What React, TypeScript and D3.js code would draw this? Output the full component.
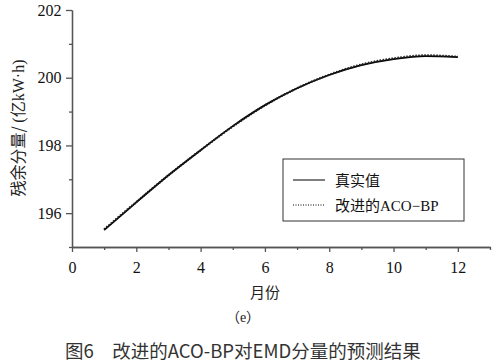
import React, { useEffect, useRef } from 'react';
import { select, scaleLinear, axisBottom, axisLeft, line, curveMonotoneX } from 'd3';

const months = [1, 2, 3, 4, 5, 6, 7, 8, 9, 10, 11, 12];
const actual = [195.5, 196.32, 197.12, 197.86, 198.57, 199.19, 199.69, 200.08, 200.37, 200.55, 200.64, 200.61];
const predicted = [195.52, 196.33, 197.12, 197.86, 198.56, 199.18, 199.69, 200.09, 200.39, 200.57, 200.66, 200.62];
const xTicks = [0, 2, 4, 6, 8, 10, 12];
const xMinor = [1, 3, 5, 7, 9, 11, 13];
const yTicks = [196, 198, 200, 202];
const yMinor = [195, 197, 199, 201];

const serif = '"Liberation Serif", "Noto Sans CJK SC", serif';
const cjk = '"Noto Sans CJK SC", sans-serif';
const axisColor = '#555';

const App = () => {
  const svgRef = useRef<SVGSVGElement>(null);

  const x = scaleLinear().domain([0, 13]).range([72, 490]);
  const y = scaleLinear().domain([195, 202]).range([247, 10]);

  useEffect(() => {
    const svg = select(svgRef.current);

    const xAxis = axisBottom(x).tickValues(xTicks).tickSize(5).tickSizeOuter(0).tickFormat((d: any) => String(d));
    const gx = svg.select<SVGGElement>('.x-axis').attr('transform', `translate(0,${y(195)})`).call(xAxis);
    gx.selectAll('text').attr('font-family', serif).attr('font-size', 16).attr('fill', '#111').attr('dy', '1.1em');
    gx.selectAll('line, path').attr('stroke', axisColor).attr('stroke-width', 1.3);
    const xm = axisBottom(x).tickValues(xMinor).tickSize(3).tickSizeOuter(0).tickFormat(() => '');
    svg.select<SVGGElement>('.x-minor').attr('transform', `translate(0,${y(195)})`).call(xm)
      .selectAll('line, path').attr('stroke', axisColor).attr('stroke-width', 1.3);

    const yAxis = axisLeft(y).tickValues(yTicks).tickSize(6).tickSizeOuter(0).tickFormat((d: any) => String(d));
    const gy = svg.select<SVGGElement>('.y-axis').attr('transform', `translate(${x(0)},0)`).call(yAxis);
    gy.selectAll('text').attr('font-family', serif).attr('font-size', 16).attr('fill', '#111').attr('dx', '-0.1em');
    gy.selectAll('line, path').attr('stroke', axisColor).attr('stroke-width', 1.3);
    const ym = axisLeft(y).tickValues(yMinor).tickSize(3).tickSizeOuter(0).tickFormat(() => '');
    svg.select<SVGGElement>('.y-minor').attr('transform', `translate(${x(0)},0)`).call(ym)
      .selectAll('line, path').attr('stroke', axisColor).attr('stroke-width', 1.3);
    svg.selectAll('.domain').attr('stroke', axisColor);
  }, []);

  const path = (vals: number[]) =>
    line<number>()
      .x((_, i) => x(months[i]))
      .y((v) => y(v))
      .curve(curveMonotoneX)(vals) || '';

  return (
    <svg ref={svgRef} width={495} height={363} style={{ position: 'absolute', left: 0, top: 0, background: '#fff' }}>
      <g className="x-minor" />
      <g className="y-minor" />
      <g className="x-axis" />
      <g className="y-axis" />

      <path d={path(actual)} fill="none" stroke="#000" strokeWidth={1.8} />
      <path d={path(predicted)} fill="none" stroke="#222" strokeWidth={2.2} strokeDasharray="1.5,1.5" />

      <text transform="translate(24,128) rotate(-90)" textAnchor="middle" fontFamily={cjk} fontSize={16} fill="#222">
        残余分量/ <tspan fontFamily={serif}>(</tspan>亿<tspan fontFamily={serif}>kW·h)</tspan>
      </text>

      <text x={265} y={298} textAnchor="middle" fontFamily={cjk} fontSize={15} fill="#222">月份</text>
      <text x={243} y={322} textAnchor="middle" fontFamily={serif} fontSize={14} fill="#222">（e）</text>

      <g>
        <rect x={283} y={159} width={181} height={62} fill="#fff" stroke="#333" strokeWidth={1} />
        <line x1={293} x2={325} y1={180} y2={180} stroke="#000" strokeWidth={1} />
        <text x={335} y={186} fontFamily={cjk} fontSize={15} fill="#111">真实值</text>
        <line x1={293} x2={325} y1={205} y2={205} stroke="#000" strokeWidth={1} strokeDasharray="1,1.5" />
        <text x={335} y={211} fontFamily={cjk} fontSize={15} fill="#111">
          改进的<tspan fontFamily={serif}>ACO−BP</tspan>
        </text>
      </g>

      <text x={65} y={358} fontFamily={cjk} fontSize={18.5} fill="#333">图6　改进的ACO-BP对EMD分量的预测结果</text>
    </svg>
  );
};

export default App;
